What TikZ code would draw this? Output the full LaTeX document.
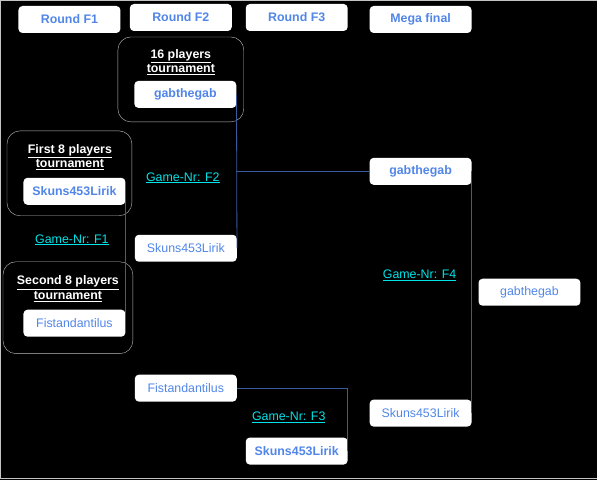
\documentclass[tikz,border=0pt]{standalone}
\usepackage{fontspec}
\setmainfont{Liberation Sans}
\usepackage{tikz}
\definecolor{BoxText}{HTML}{5186E8}
\definecolor{GameCyan}{HTML}{00E3E8}
\definecolor{FrameGray}{HTML}{C4C4C4}
\definecolor{GroupGray}{HTML}{BDBDBD}
\definecolor{LinkBlue}{HTML}{3A5C9E}

\begin{document}
\begin{tikzpicture}[x=1pt,y=-1pt, every node/.style={font=\fontsize{12.4}{14}\selectfont}]
  \tikzset{
    player/.style={draw=none, fill=white, rounded corners=4pt, minimum width=102pt,
      minimum height=27pt, inner sep=0pt, text=BoxText},
    winner/.style={player, font=\fontsize{12.4}{14}\selectfont\bfseries},
    group/.style={draw=GroupGray, rounded corners=13pt},
    grouptitle/.style={text=white, align=center, font=\fontsize{12.4}{14.5}\selectfont\bfseries},
    game/.style={text=GameCyan},
    link/.style={draw=LinkBlue, line width=0.8pt}
  }
  % background and frame
  \fill[black] (0,0) rectangle (598,480);
  \draw[FrameGray, line width=1.2pt] (598,0.6) -- (0.6,0.6) -- (0.6,478.6) -- (598,478.6);
  \useasboundingbox (0,0) rectangle (598,480);

  % round headers
  \node[winner] (rf1) at (69.5,19.5) {Round F1};
  \node[winner] (rf2) at (181,17.5) {Round F2};
  \node[winner] (rf3) at (297,17.5) {Round F3};
  \node[winner] (rmega) at (421,19.5) {Mega final};

  % group boxes
  \draw[group] (118,37) rectangle (244,122);
  \node[grouptitle] (t16) at (181,62) {\underline{16 players}\\\underline{tournament}};
  \draw[group] (7,131) rectangle (132,216);
  \node[grouptitle] (t8a) at (70,157) {\underline{First 8 players}\\\underline{tournament}};
  \draw[group] (3,262) rectangle (133,354);
  \node[grouptitle] (t8b) at (68,289) {\underline{Second 8 players}\\\underline{tournament}};

  % players
  \node[winner] (gab16) at (185.5,94.5) {gabthegab};
  \node[winner] (sk1) at (74.5,191.5) {Skuns453Lirik};
  \node[player] (fi1) at (74.5,323.5) {Fistandantilus};
  \node[player] (sk2) at (186,248.5) {Skuns453Lirik};
  \node[player] (fi2) at (186,388.5) {Fistandantilus};
  \node[winner] (gab3) at (421,171.5) {gabthegab};
  \node[winner] (sk3) at (297,451.5) {Skuns453Lirik};
  \node[player] (sk4) at (421,413.5) {Skuns453Lirik};
  \node[player] (gabfin) at (530,292.5) {gabthegab};

  % game labels
  \node[game] (g1) at (72,240) {\underline{Game-Nr: F1}};
  \node[game] (g2) at (183,178) {\underline{Game-Nr: F2}};
  \node[game] (g3) at (289,418) {\underline{Game-Nr: F3}};
  \node[game] (g4) at (420,276) {\underline{Game-Nr: F4}};

  % connectors
  \draw[link] (sk1.east) -- (fi1.east);
  \draw[link] (gab16.east) -- (sk2.east);
  \draw[link] (gab16.east |- gab3.west) -- (gab3.west);
  \draw[link] (fi2.east) -| (sk3.east);
  \draw[link] (gab3.east) -- (sk4.east);
\end{tikzpicture}
\end{document}
